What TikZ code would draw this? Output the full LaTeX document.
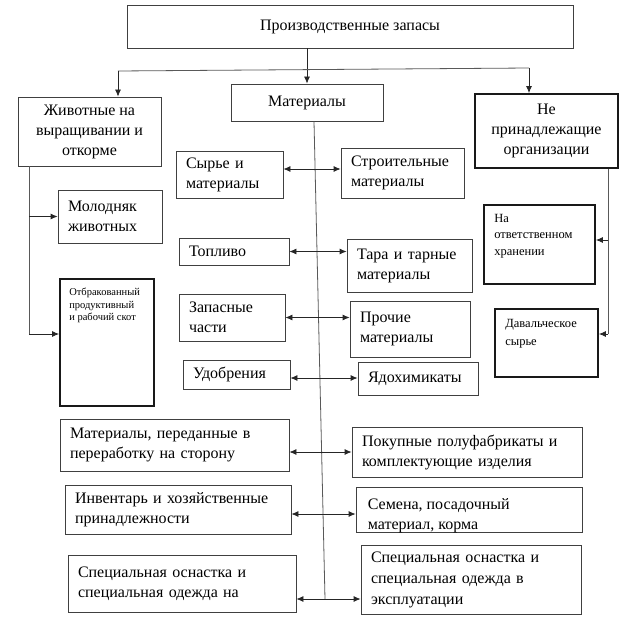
\documentclass[tikz,border=0pt]{standalone}
\usepackage{fontspec}
\setmainfont{Liberation Serif}
\usetikzlibrary{arrows.meta,calc}

\begin{document}
\begin{tikzpicture}[x=1pt,y=-1pt,
  every node/.style={font=\fontsize{16}{20}\selectfont,inner ysep=0pt},%
  bx/.style={draw=black!75,line width=0.8pt,rectangle,align=left,inner xsep=10pt},%
  cb/.style={draw=black!75,line width=0.8pt,rectangle,align=center},%
  tk/.style={draw=black!90,line width=1.8pt,rectangle},%
  tx/.style={align=left,inner sep=0pt,anchor=north west},%
  sm/.style={font=\fontsize{10.5}{12.5}\selectfont},%
  md/.style={font=\fontsize{12.5}{16.5}\selectfont},%
  ln/.style={draw=black!65,line width=0.8pt},%
  e/.style={-{Latex[length=7pt,width=6pt]},line width=0.8pt,draw=black!85},%
  de/.style={{Latex[length=7pt,width=6pt]}-{Latex[length=7pt,width=6pt]},%
    line width=0.8pt,draw=black!85},%
  ]
  \useasboundingbox (0,0) rectangle (624,618);
  % top level
  \node (prz) [cb,minimum width=446pt,minimum height=43pt] at (350,26.5) {Производственные запасы};
  \node (mat) [cb,minimum width=152pt,minimum height=37pt] at (307,102.5) {Материалы};
  \node (zhv) [cb,minimum width=143pt,minimum height=69pt] at (89.5,131.5) {Животные на\\выращивании и\\откорме};
  \node (ne) [cb,tk,minimum width=143pt,minimum height=74pt] at (546.5,131) {Не\\принадлежащие\\организации};
  % animals
  \node (mol) [bx,text width=84pt,minimum height=53pt] at (110,216.5) {Молодняк\\животных};
  \node (otb) [tk,minimum width=94pt,minimum height=127pt] at (107,342.5) {};
  \node (otbt) [tx,sm] at ([xshift=10pt,yshift=-10pt]otb.north west) {Отбракованный\\продуктивный\\и рабочий скот};
  % materials, left
  \node (syr) [bx,text width=87pt,minimum height=47pt] at (229.5,174.5) {Сырье и\\материалы};
  \node (tpl) [bx,text width=90pt,minimum height=27pt] at (234,251.5) {Топливо};
  \node (zap) [bx,text width=86pt,minimum height=47pt] at (232,317.5) {Запасные\\части};
  \node (udo) [bx,text width=87pt,minimum height=29pt] at (236.5,374.5) {Удобрения};
  \node (per) [bx,text width=209pt,minimum height=52pt] at (174.5,445) {Материалы, переданные в\\переработку на сторону};
  \node (inv) [bx,text width=206pt,minimum height=49pt] at (178,509.5) {Инвентарь и хозяйственные\\принадлежности};
  \node (spl) [bx,text width=208pt,minimum height=57pt] at (182,583.5) {Специальная оснастка и\\специальная одежда на};
  % materials, right
  \node (str) [bx,text width=103pt,minimum height=50pt] at (402.5,173) {Строительные\\материалы};
  \node (tara) [bx,text width=105pt,minimum height=53pt] at (409.5,265.5) {Тара и тарные\\материалы};
  \node (pro) [bx,text width=100pt,minimum height=56pt] at (410,329) {Прочие\\материалы};
  \node (yad) [bx,text width=100pt,minimum height=33pt] at (418,378.5) {Ядохимикаты};
  \node (pok) [bx,text width=210pt,minimum height=50pt] at (467,452) {Покупные полуфабрикаты и\\комплектующие изделия};
  \node (sem) [bx,minimum width=226pt,minimum height=45pt] at (469,509.5) {};
  \begin{scope}
    \clip (sem.south west) rectangle (sem.north east);
    \node (semt) [tx] at ([xshift=12pt,yshift=-11.5pt]sem.north west) {Семена, посадочный\\материал, корма};
  \end{scope}
  \node (spr) [bx,text width=200pt,minimum height=69pt,font=\fontsize{16}{21}\selectfont] at (471,579.5) {Специальная оснастка и\\специальная одежда в\\эксплуатации};
  % not owned
  \node (otv) [tk,minimum width=111pt,minimum height=79pt] at (539.5,244.5) {};
  \node (otvt) [tx,md] at ([xshift=11pt,yshift=-10pt]otv.north west) {На\\ответственном\\хранении};
  \node (dav) [tk,minimum width=103pt,minimum height=68pt] at (546.5,343) {};
  \node (davt) [tx,md,font=\fontsize{12.5}{18}\selectfont] at ([xshift=11pt,yshift=-11pt]dav.north west) {Давальческое\\сырье};
  % connectors
  \coordinate (hl) at (118,71);
  \coordinate (hr) at (529,68);
  \coordinate (lb) at (29,334);
  \coordinate (rb) at (608,334);
  \coordinate (mb) at (325,599);
  \draw [e] (mat.north |- prz.south) -- (mat.north);
  \draw [ln] (hl) -- (hr);
  \draw [e] (hl) -- (hl |- zhv.north);
  \draw [e] (hr) -- (hr |- ne.north);
  \draw [ln] (zhv.south -| lb) -- (lb);
  \draw [e] (mol.west -| lb) -- (mol.west);
  \draw [e] (lb) -- (lb -| otb.west);
  \draw [ln] (ne.south -| rb) -- (rb);
  \draw [e] ([yshift=4.5pt]otv.east -| rb) -- ([yshift=4.5pt]otv.east);
  \draw [e] (rb) -- (rb -| dav.east);
  \draw [ln] ([xshift=7pt]mat.south) -- (mb);
  \draw [de] ([yshift=5.5pt]syr.east) -- ([yshift=5.5pt]syr.east -| str.west);
  \draw [de] (tpl.east) -- (tpl.east -| tara.west);
  \draw [de] (zap.east) -- (zap.east -| pro.west);
  \draw [de] ([yshift=-3.5pt]udo.east) -- ([yshift=-3.5pt]udo.east -| yad.west);
  \draw [de] ([yshift=-7pt]per.east) -- ([yshift=-7pt]per.east -| pok.west);
  \draw [de] ([yshift=-4.5pt]inv.east) -- ([yshift=-4.5pt]inv.east -| sem.west);
  \draw [de] ([yshift=-15.5pt]spl.east) -- ([yshift=-15.5pt]spl.east -| spr.west);
\end{tikzpicture}
\end{document}
